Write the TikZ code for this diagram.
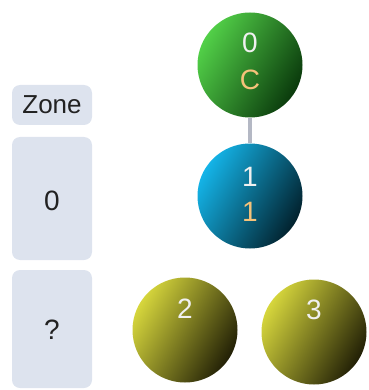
\documentclass[tikz,border=0pt]{standalone}
\usepackage{fontspec}
\setmainfont{Liberation Sans}
\usepackage{tikz}
\usetikzlibrary{positioning}
\usepackage{xcolor}

\definecolor{zonefill}{HTML}{DDE3EE}
\definecolor{zonetext}{HTML}{222222}
\definecolor{linkgray}{HTML}{B4B8C4}
\definecolor{greenlt}{HTML}{52D048}
\definecolor{greendk}{HTML}{0A3A0C}
\definecolor{bluelt}{HTML}{14B4E8}
\definecolor{bluedk}{HTML}{02222E}
\definecolor{yellowlt}{HTML}{D6D63C}
\definecolor{yellowdk}{HTML}{222006}
\definecolor{idwhite}{HTML}{F0F0F0}
\definecolor{zoneorange}{HTML}{F5C27A}

\begin{document}
\begin{tikzpicture}[
    x=1pt, y=-1pt,
    ball/.style 2 args={circle, inner sep=0pt, minimum size=105pt, top color=#1, bottom color=#2, shading angle=60},
    zonebox/.style={rectangle, rounded corners=8pt, fill=zonefill, minimum width=80pt, minimum height=#1, inner sep=0pt},
    zonebox/.default=40pt,
    boxtxt/.style={font=\fontsize{28}{30}\selectfont, text=zonetext},
    idtxt/.style={font=\fontsize{28}{30}\selectfont, text=idwhite},
    ztxt/.style={font=\fontsize{28}{30}\selectfont, text=zoneorange},
    link/.style={draw=linkgray, line width=4pt}
]
\useasboundingbox (0,0) rectangle (368,390);

% zone column
\node[zonebox] (zhead) at (52,105) {};
\node[font=\fontsize{26}{28}\selectfont, text=zonetext] (zheadtxt) at (52,105) {Zone};
\node[zonebox=123pt] (z0) at (52,198.5) {};
\node[boxtxt] (z0txt) at (52,201) {0};
\node[zonebox=118pt] (zq) at (52,329) {};
\node[boxtxt] (zqtxt) at (52,330) {?};

% servers
\node[ball={greenlt}{greendk}] (c0) at (250,65) {};
\node[idtxt] (c0id) at (250,43) {0};
\node[ztxt] (c0z) at (250,80) {C};

\node[ball={bluelt}{bluedk}] (c1) at (250,196) {};
\node[idtxt] (c1id) at (250,177) {1};
\node[ztxt] (c1z) at (250,212) {1};

\node[ball={yellowlt}{yellowdk}] (c2) at (185,330) {};
\node[idtxt] (c2id) at (185,309) {2};

\node[ball={yellowlt}{yellowdk}] (c3) at (314,332) {};
\node[idtxt] (c3id) at (314,310) {3};

\draw[link] (c0) -- (c1);

\end{tikzpicture}
\end{document}
